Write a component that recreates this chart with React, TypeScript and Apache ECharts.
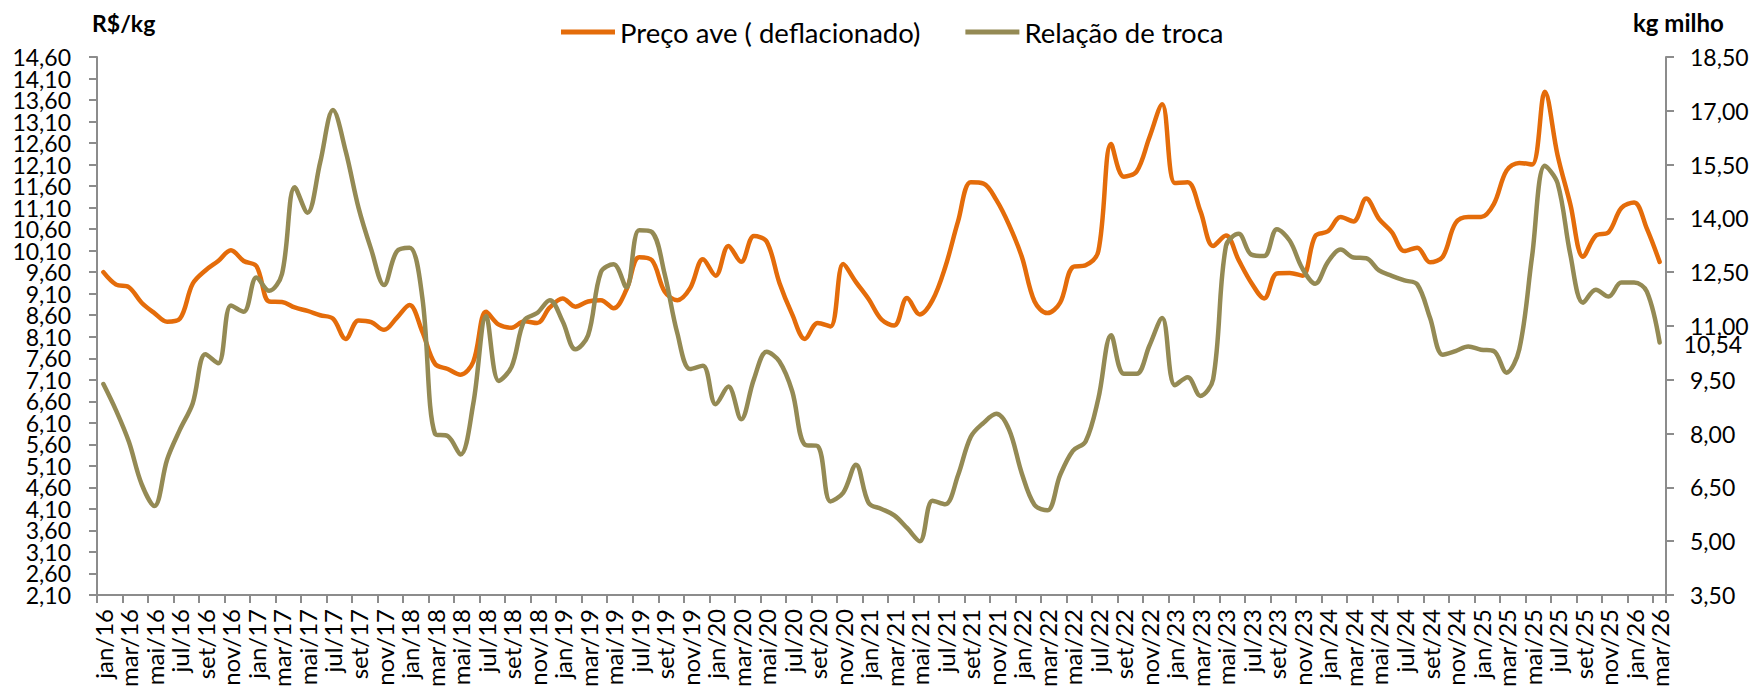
import { useEffect, useRef } from 'react';
import * as echarts from 'echarts';

// ---- categories: jan/16 .. mar/26 (monthly) ----
const MONTH_NAMES = ['jan', 'fev', 'mar', 'abr', 'mai', 'jun', 'jul', 'ago', 'set', 'out', 'nov', 'dez'];
const YEARS = [16, 17, 18, 19, 20, 21, 22, 23, 24, 25, 26];
const LAST_MONTH_OF_LAST_YEAR = 2; // mar
const CATEGORIES: string[] = [];
YEARS.forEach((y, yi) => {
  MONTH_NAMES.forEach((m, mi) => {
    if (yi === YEARS.length - 1 && mi > LAST_MONTH_OF_LAST_YEAR) return;
    CATEGORIES.push(`${m}/${y}`);
  });
});

// ---- series: Preço ave (deflacionado), R$/kg (left axis) ----
const PRECO = [
  9.6, 9.31, 9.25, 8.89, 8.65, 8.45, 8.52, 9.33, 9.64, 9.86,
  10.11, 9.86, 9.74, 8.92, 8.91, 8.78, 8.7, 8.6, 8.52, 8.05,
  8.48, 8.44, 8.26, 8.54, 8.84, 8.22, 7.47, 7.35, 7.22, 7.52,
  8.68, 8.38, 8.31, 8.46, 8.42, 8.78, 8.99, 8.8, 8.92, 8.95,
  8.76, 9.19, 9.95, 9.88, 9.15, 8.95, 9.23, 9.9, 9.52, 10.21,
  9.84, 10.44, 10.31, 9.35, 8.62, 8.05, 8.42, 8.34, 9.79, 9.37,
  8.97, 8.5, 8.36, 9.0, 8.62, 8.95, 9.72, 10.78, 11.69, 11.66,
  11.28, 10.7, 9.96, 8.92, 8.65, 8.89, 9.72, 9.76, 10.09, 12.58,
  11.82, 11.94, 12.73, 13.5, 11.67, 11.69, 11.02, 10.21, 10.45, 9.88,
  9.35, 8.99, 9.57, 9.58, 9.52, 10.44, 10.55, 10.88, 10.78, 11.31,
  10.84, 10.53, 10.09, 10.17, 9.83, 9.96, 10.74, 10.88, 10.88, 11.18,
  11.96, 12.14, 12.1, 13.79, 12.32, 11.18, 9.96, 10.45, 10.53, 11.09,
  11.22, 10.61, 9.84,
];

// ---- series: Relação de troca, kg milho (right axis) ----
const TROCA = [
  9.38, 8.64, 7.77, 6.59, 5.98, 7.28, 8.11, 8.84, 10.21, 9.96,
  11.57, 11.4, 12.35, 11.98, 12.45, 14.87, 14.16, 15.57, 17.02, 15.87,
  14.3, 13.13, 12.14, 13.08, 13.18, 11.8, 7.99, 7.93, 7.42, 8.84,
  11.28, 9.47, 9.86, 11.16, 11.36, 11.72, 11.13, 10.35, 10.74, 12.5,
  12.72, 12.08, 13.67, 13.62, 12.45, 10.79, 9.8, 9.89, 8.82, 9.31,
  8.4, 9.52, 10.28, 10.01, 9.18, 7.69, 7.65, 6.11, 6.35, 7.13,
  6.06, 5.9, 5.72, 5.37, 5.0, 6.13, 6.03, 6.84, 7.91, 8.3,
  8.55, 8.11, 6.89, 6.01, 5.86, 6.84, 7.52, 7.78, 8.98, 10.74,
  9.67, 9.67, 10.45, 11.22, 9.35, 9.57, 9.05, 9.52, 13.23, 13.57,
  12.99, 12.95, 13.7, 13.38, 12.6, 12.18, 12.79, 13.13, 12.91, 12.89,
  12.55, 12.4, 12.27, 12.16, 11.23, 10.2, 10.3, 10.43, 10.34, 10.3,
  9.7, 10.35, 12.94, 15.47, 14.98, 12.99, 11.65, 12.01, 11.82, 12.21,
  12.21, 11.96, 10.54,
];

// ---- tick values ----
const LEFT_TICKS = [
  2.1, 2.6, 3.1, 3.6, 4.1, 4.6, 5.1, 5.6, 6.1, 6.6, 7.1, 7.6, 8.1,
  8.6, 9.1, 9.6, 10.1, 10.6, 11.1, 11.6, 12.1, 12.6, 13.1, 13.6, 14.1, 14.6,
];
const RIGHT_TICKS = [3.5, 5.0, 6.5, 8.0, 9.5, 11.0, 12.5, 14.0, 15.5, 17.0, 18.5];
// left labels split over two coincident axes so that none of them gets hidden as overlapping
const LEFT_LABELS_A = LEFT_TICKS.filter((_, i) => i % 2 === 0);
const LEFT_LABELS_B = LEFT_TICKS.filter((_, i) => i % 2 === 1);

const SERIES_NAMES = ['Preço ave ( deflacionado)', 'Relação de troca'];
const LEFT_UNIT = 'R$/kg';
const RIGHT_UNIT = 'kg milho';

const ORANGE = '#E46C0A';
const OLIVE = '#948A54';
const AXIS = '#8C8C8C';
const FONT = 'Lato';

const fmt = (v: number) => v.toFixed(2).replace('.', ',');

export default function App() {
  const ref = useRef<HTMLDivElement>(null);

  useEffect(() => {
    if (!ref.current) return;
    const chart = echarts.init(ref.current, undefined, { renderer: 'svg' });
    const axisLine = { show: true, lineStyle: { color: AXIS, width: 2 } };
    const labelBase = { fontSize: 23, color: '#000', fontFamily: FONT };
    chart.setOption({
      animation: false,
      backgroundColor: '#ffffff',
      textStyle: { fontFamily: FONT },
      grid: { left: 97, right: 88, top: 57, bottom: 96, containLabel: false },
      legend: {
        left: 556,
        top: 13,
        icon: 'rect',
        itemWidth: 54,
        itemHeight: 5,
        itemGap: 45,
        textStyle: { fontSize: 27.5, color: '#000', fontFamily: FONT },
        data: SERIES_NAMES,
      },
      xAxis: {
        type: 'category',
        data: CATEGORIES,
        boundaryGap: true,
        axisLine,
        axisTick: { show: true, interval: 1, length: 8, lineStyle: { color: AXIS, width: 2 } },
        axisLabel: { ...labelBase, fontSize: 24, interval: 1, rotate: 90, margin: 14 },
        splitLine: { show: false },
      },
      yAxis: [
        {
          type: 'value',
          position: 'left',
          min: 2.1,
          max: 14.6,
          axisLine,
          axisTick: { show: true, length: 8, customValues: LEFT_TICKS, lineStyle: { color: AXIS, width: 2 } },
          axisLabel: {
            ...labelBase,
            margin: 26,
            showMinLabel: true,
            showMaxLabel: true,
            customValues: LEFT_LABELS_A,
            formatter: (v: number) => fmt(v),
          },
          splitLine: { show: false },
        },
        {
          type: 'value',
          position: 'right',
          min: 3.5,
          max: 18.5,
          axisLine,
          axisTick: { show: true, length: 8, customValues: RIGHT_TICKS, lineStyle: { color: AXIS, width: 2 } },
          axisLabel: {
            ...labelBase,
            margin: 24,
            showMinLabel: true,
            showMaxLabel: true,
            customValues: RIGHT_TICKS,
            formatter: (v: number) => fmt(v),
          },
          splitLine: { show: false },
        },
        {
          type: 'value',
          position: 'left',
          min: 2.1,
          max: 14.6,
          axisLine: { show: false },
          axisTick: { show: false },
          axisLabel: {
            ...labelBase,
            margin: 26,
            showMinLabel: true,
            showMaxLabel: true,
            customValues: LEFT_LABELS_B,
            formatter: (v: number) => fmt(v),
          },
          splitLine: { show: false },
        },
      ],
      series: [
        {
          name: SERIES_NAMES[0],
          type: 'line',
          yAxisIndex: 0,
          data: PRECO,
          smooth: 0.35,
          symbol: 'none',
          showSymbol: false,
          lineStyle: { color: ORANGE, width: 4.5, cap: 'round', join: 'round' },
          itemStyle: { color: ORANGE },
        },
        {
          name: SERIES_NAMES[1],
          type: 'line',
          yAxisIndex: 1,
          data: TROCA,
          smooth: 0.35,
          symbol: 'none',
          showSymbol: false,
          lineStyle: { color: OLIVE, width: 4.5, cap: 'round', join: 'round' },
          itemStyle: { color: OLIVE },
          endLabel: {
            show: true,
            distance: 24,
            ...labelBase,
            offset: [0, 2],
            formatter: (p: any) => fmt(Array.isArray(p.value) ? p.value[1] : p.value),
          },
        },
      ],
      graphic: [
        {
          type: 'text',
          left: 92,
          top: 11,
          style: { text: LEFT_UNIT, font: `bold 23px ${FONT}`, fill: '#000' },
        },
        {
          type: 'text',
          left: 1633,
          top: 10,
          style: { text: RIGHT_UNIT, font: `bold 24px ${FONT}`, fill: '#000' },
        },
      ],
    });
    return () => chart.dispose();
  }, []);

  return (
    <div
      ref={ref}
      style={{ position: 'absolute', left: 0, top: 0, width: 1754, height: 691, background: '#fff' }}
    />
  );
}
